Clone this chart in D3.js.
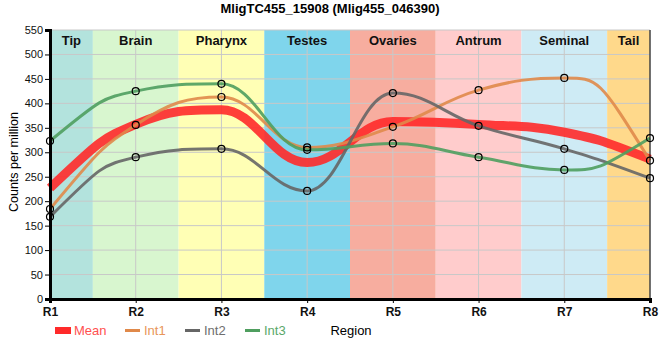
<!DOCTYPE html>
<html>
<head>
<meta charset="utf-8">
<script src="https://cdn.jsdelivr.net/npm/d3@7"></script>
<style>
  body { margin: 0; background: #fff; }
  svg text { font-family: "Liberation Sans", Arial, sans-serif; }
</style>
</head>
<body>
<script>
const w = 660; // width
const h = 360; // height

// data
const regions = ["R1", "R2", "R3", "R4", "R5", "R6", "R7", "R8"];
const tissues = ["Tip", "Brain", "Pharynx", "Testes", "Ovaries", "Antrum", "Seminal", "Tail"];
const tissueColors = ["#b3e3dd", "#d8f6cf", "#ffffb5", "#7fd5ec", "#f7ad9f", "#ffcccc", "#ceebf5", "#ffd98b"];
const mean = [227, 357, 387, 279, 363, 357, 341, 286];
const int1 = [184, 356, 413, 310, 352, 427, 452, 283];
const int2 = [168, 290, 307, 221, 421, 354, 307, 247];
const int3 = [323, 425, 440, 305, 318, 290, 264, 329];
const yTicks = [0, 50, 100, 150, 200, 250, 300, 350, 400, 450, 500, 550];

const series = [
    { name: "Mean", values: mean, color: "#ff2a2a", text: "#ff5050", width: 9, points: false },
    { name: "Int1", values: int1, color: "#e0894a", text: "#e8955a", width: 3, points: true },
    { name: "Int2", values: int2, color: "#666666", text: "#6e6e6e", width: 3, points: true },
    { name: "Int3", values: int3, color: "#4f9e5f", text: "#5aa86a", width: 3, points: true }
];

// smooth spline through the points, control points at 0.4 of the gap,
// flattened at local extremes so the curve never overshoots
function SplineCurve(context) { this._context = context; }
SplineCurve.prototype = {
    areaStart() {}, areaEnd() {},
    lineStart() { this._pts = []; },
    point(px, py) { this._pts.push([+px, +py]); },
    lineEnd() {
        const p = this._pts, c = this._context, s = 1.5, den = s + 1;
        if (!p.length) return;
        c.moveTo(p[0][0], p[0][1]);
        let prevRight = null;
        for (let i = 1; i < p.length; i++) {
            const [px, py] = p[i], [lx, ly] = p[i - 1];
            let left = null, right = null;
            if (i < p.length - 1) {
                const [nx, ny] = p[i + 1];
                let lcx = (s * px + lx) / den, lcy = (s * py + ly) / den;
                let rcx = (s * px + nx) / den, rcy = (s * py + ny) / den;
                let corr = 0;
                if (rcx !== lcx) corr = (rcy - lcy) * (rcx - px) / (rcx - lcx) + py - rcy;
                lcy += corr; rcy += corr;
                if (lcy > ly && lcy > py) { lcy = Math.max(ly, py); rcy = 2 * py - lcy; }
                else if (lcy < ly && lcy < py) { lcy = Math.min(ly, py); rcy = 2 * py - lcy; }
                if (rcy > ny && rcy > py) { rcy = Math.max(ny, py); lcy = 2 * py - rcy; }
                else if (rcy < ny && rcy < py) { rcy = Math.min(ny, py); lcy = 2 * py - rcy; }
                left = [lcx, lcy]; right = [rcx, rcy];
            }
            // end segments only have one control point: use it twice
            const c1 = prevRight || left || [lx, ly];
            const c2 = left || prevRight || [px, py];
            c.bezierCurveTo(c1[0], c1[1], c2[0], c2[1], px, py);
            prevRight = right;
        }
    }
};
const curveSpline = (context) => new SplineCurve(context);

let svg = d3.select("body")
    .append("svg")
    .attr("width", w)
    .attr("height", h);

let x = d3.scaleLinear()
    .domain([0, regions.length - 1])
    .range([50, 650]);

let y = d3.scaleLinear()
    .domain([0, 550])
    .range([299, 30]);

const bandL = (i) => x(Math.max(0, i - 0.5));
const bandR = (i) => x(Math.min(regions.length - 1, i + 0.5));

// region bands
svg.selectAll("rect.band")
    .data(tissues)
    .enter()
    .append("rect")
    .attr("class", "band")
    .attr("x", (d, i) => bandL(i))
    .attr("width", (d, i) => bandR(i) - bandL(i))
    .attr("y", y(550))
    .attr("height", y(0) - y(550))
    .attr("fill", (d, i) => tissueColors[i]);

// grid
svg.selectAll("line.hgrid")
    .data(yTicks)
    .enter()
    .append("line")
    .attr("x1", x(0)).attr("x2", x(regions.length - 1))
    .attr("y1", d => y(d)).attr("y2", d => y(d))
    .attr("stroke", "#c8c8c8")
    .attr("stroke-width", 1);

svg.selectAll("line.vgrid")
    .data(regions)
    .enter()
    .append("line")
    .attr("x1", (d, i) => x(i)).attr("x2", (d, i) => x(i))
    .attr("y1", y(0)).attr("y2", y(550))
    .attr("stroke", "#c8c8c8")
    .attr("stroke-width", 1);

// tissue labels
svg.selectAll("text.tissue")
    .data(tissues)
    .enter()
    .append("text")
    .attr("x", (d, i) => (bandL(i) + bandR(i)) / 2)
    .attr("y", 45)
    .attr("text-anchor", "middle")
    .attr("font-size", 13)
    .attr("font-weight", "bold")
    .attr("fill", "#111")
    .text(d => d);

// lines
let line = d3.line()
    .x((d, i) => x(i))
    .y(d => y(d))
    .curve(curveSpline);

svg.selectAll("path.series")
    .data(series)
    .enter()
    .append("path")
    .attr("d", d => line(d.values))
    .attr("fill", "none")
    .attr("stroke", d => d.color)
    .attr("stroke-width", d => d.width)
    .attr("stroke-opacity", 0.9);

// points
series.filter(s => s.points).forEach(s => {
    svg.selectAll(null)
        .data(s.values)
        .enter()
        .append("circle")
        .attr("cx", (d, i) => x(i))
        .attr("cy", d => y(d))
        .attr("r", 3.5)
        .attr("fill", "none")
        .attr("stroke", "#000")
        .attr("stroke-width", 1.2);
});

// right border
svg.append("line")
    .attr("x1", x(regions.length - 1)).attr("x2", x(regions.length - 1))
    .attr("y1", y(0)).attr("y2", y(550))
    .attr("stroke", "#000");

// y axis
let gY = svg.append("g")
    .attr("transform", `translate(${x(0)},0)`)
    .call(d3.axisLeft(y).tickValues(yTicks).tickSize(5).tickPadding(2));
gY.select(".domain").attr("stroke-width", 3);
gY.selectAll("text").attr("font-size", 11).attr("fill", "#111");

// x axis
let gX = svg.append("g")
    .attr("transform", `translate(0,${y(0)})`)
    .call(d3.axisBottom(x).tickValues(d3.range(regions.length)).tickFormat(i => regions[i]).tickSize(4).tickPadding(4));
gX.select(".domain").attr("stroke-width", 3);
gX.selectAll("text").attr("font-size", 12).attr("font-weight", "bold").attr("fill", "#111");

// title
svg.append("text")
    .attr("x", 330)
    .attr("y", 13)
    .attr("text-anchor", "middle")
    .attr("font-size", 13)
    .attr("font-weight", "bold")
    .text("MligTC455_15908 (Mlig455_046390)");

// y axis label
svg.append("text")
    .attr("transform", "rotate(-90)")
    .attr("x", -162)
    .attr("y", 18)
    .attr("text-anchor", "middle")
    .attr("font-size", 12.5)
    .text("Counts per million");

// x axis label
svg.append("text")
    .attr("x", 351)
    .attr("y", 335)
    .attr("text-anchor", "middle")
    .attr("font-size", 13)
    .text("Region");

// legend
let legend = svg.selectAll("g.legend")
    .data(series)
    .enter()
    .append("g")
    .attr("transform", (d, i) => `translate(${55 + i * 60},330.5)`);

legend.append("rect")
    .attr("x", d => d.name === "Mean" ? 0 : 10)
    .attr("y", d => d.name === "Mean" ? -3.5 : -1.5)
    .attr("width", d => d.name === "Mean" ? 16 : 15)
    .attr("height", d => d.name === "Mean" ? 7 : 3)
    .attr("fill", d => d.color);

legend.append("text")
    .attr("x", d => d.name === "Mean" ? 19 : 29)
    .attr("y", 4.5)
    .attr("font-size", 13)
    .attr("fill", d => d.text)
    .text(d => d.name);
</script>
</body>
</html>
